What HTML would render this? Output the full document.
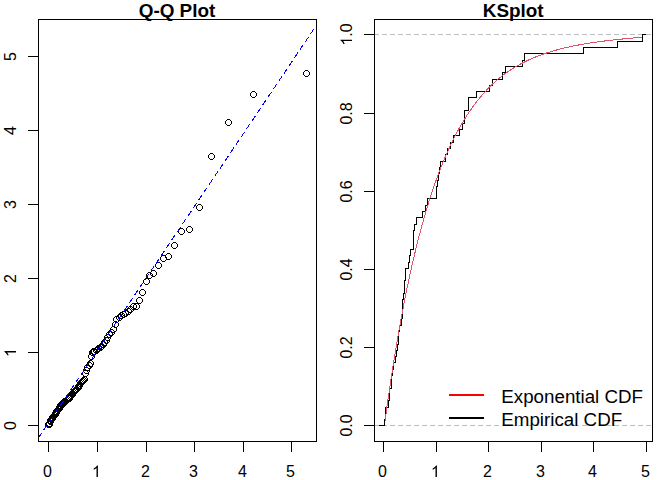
<!DOCTYPE html>
<html><head><meta charset="utf-8"><title>Q-Q Plot / KSplot</title>
<style>html,body{margin:0;padding:0;background:#fff;}svg{display:block;}</style>
</head><body>
<svg width="672" height="480" viewBox="0 0 672 480">
<rect width="672" height="480" fill="#fff"/>
<g shape-rendering="crispEdges" fill="none" stroke="#000" stroke-width="1">
<rect x="38.5" y="19.5" width="278" height="422"/>
<line x1="48.5" y1="441.5" x2="48.5" y2="451.5"/>
<line x1="28" y1="425.5" x2="38.5" y2="425.5"/>
<line x1="97.5" y1="441.5" x2="97.5" y2="451.5"/>
<line x1="28" y1="352.5" x2="38.5" y2="352.5"/>
<line x1="146.5" y1="441.5" x2="146.5" y2="451.5"/>
<line x1="28" y1="278.5" x2="38.5" y2="278.5"/>
<line x1="194.5" y1="441.5" x2="194.5" y2="451.5"/>
<line x1="28" y1="204.5" x2="38.5" y2="204.5"/>
<line x1="243.5" y1="441.5" x2="243.5" y2="451.5"/>
<line x1="28" y1="130.5" x2="38.5" y2="130.5"/>
<line x1="291.5" y1="441.5" x2="291.5" y2="451.5"/>
<line x1="28" y1="56.5" x2="38.5" y2="56.5"/>
</g>
<defs><path id="c" d="M2 0h3v1h-3zM1 1h1v1h-1zM5 1h1v1h-1zM0 2h1v3h-1zM6 2h1v3h-1zM1 5h1v1h-1zM5 5h1v1h-1zM2 6h3v1h-3z"/></defs>
<g shape-rendering="crispEdges" fill="#000">
<use href="#c" x="45" y="421"/>
<use href="#c" x="46" y="421"/>
<use href="#c" x="46" y="420"/>
<use href="#c" x="47" y="418"/>
<use href="#c" x="47" y="417"/>
<use href="#c" x="48" y="416"/>
<use href="#c" x="48" y="416"/>
<use href="#c" x="49" y="415"/>
<use href="#c" x="49" y="414"/>
<use href="#c" x="50" y="413"/>
<use href="#c" x="50" y="413"/>
<use href="#c" x="51" y="412"/>
<use href="#c" x="52" y="411"/>
<use href="#c" x="52" y="410"/>
<use href="#c" x="53" y="409"/>
<use href="#c" x="53" y="408"/>
<use href="#c" x="54" y="407"/>
<use href="#c" x="54" y="407"/>
<use href="#c" x="55" y="406"/>
<use href="#c" x="56" y="405"/>
<use href="#c" x="56" y="404"/>
<use href="#c" x="57" y="403"/>
<use href="#c" x="57" y="402"/>
<use href="#c" x="58" y="401"/>
<use href="#c" x="59" y="401"/>
<use href="#c" x="59" y="400"/>
<use href="#c" x="60" y="399"/>
<use href="#c" x="61" y="399"/>
<use href="#c" x="61" y="398"/>
<use href="#c" x="62" y="398"/>
<use href="#c" x="63" y="397"/>
<use href="#c" x="63" y="397"/>
<use href="#c" x="64" y="396"/>
<use href="#c" x="65" y="395"/>
<use href="#c" x="66" y="395"/>
<use href="#c" x="66" y="394"/>
<use href="#c" x="67" y="393"/>
<use href="#c" x="68" y="392"/>
<use href="#c" x="69" y="391"/>
<use href="#c" x="69" y="390"/>
<use href="#c" x="70" y="389"/>
<use href="#c" x="71" y="388"/>
<use href="#c" x="72" y="387"/>
<use href="#c" x="73" y="386"/>
<use href="#c" x="74" y="385"/>
<use href="#c" x="75" y="384"/>
<use href="#c" x="75" y="383"/>
<use href="#c" x="76" y="382"/>
<use href="#c" x="77" y="380"/>
<use href="#c" x="78" y="379"/>
<use href="#c" x="79" y="378"/>
<use href="#c" x="80" y="377"/>
<use href="#c" x="81" y="376"/>
<use href="#c" x="82" y="370"/>
<use href="#c" x="83" y="367"/>
<use href="#c" x="84" y="364"/>
<use href="#c" x="86" y="362"/>
<use href="#c" x="87" y="360"/>
<use href="#c" x="88" y="353"/>
<use href="#c" x="89" y="349"/>
<use href="#c" x="90" y="348"/>
<use href="#c" x="91" y="348"/>
<use href="#c" x="93" y="347"/>
<use href="#c" x="94" y="346"/>
<use href="#c" x="95" y="345"/>
<use href="#c" x="97" y="344"/>
<use href="#c" x="98" y="343"/>
<use href="#c" x="100" y="341"/>
<use href="#c" x="101" y="339"/>
<use href="#c" x="103" y="337"/>
<use href="#c" x="104" y="334"/>
<use href="#c" x="106" y="331"/>
<use href="#c" x="108" y="329"/>
<use href="#c" x="110" y="326"/>
<use href="#c" x="112" y="321"/>
<use href="#c" x="113" y="316"/>
<use href="#c" x="116" y="314"/>
<use href="#c" x="118" y="312"/>
<use href="#c" x="120" y="311"/>
<use href="#c" x="122" y="310"/>
<use href="#c" x="125" y="308"/>
<use href="#c" x="127" y="306"/>
<use href="#c" x="130" y="303"/>
<use href="#c" x="133" y="303"/>
<use href="#c" x="136" y="297"/>
<use href="#c" x="139" y="289"/>
<use href="#c" x="143" y="278"/>
<use href="#c" x="146" y="272"/>
<use href="#c" x="150" y="270"/>
<use href="#c" x="155" y="262"/>
<use href="#c" x="160" y="255"/>
<use href="#c" x="165" y="253"/>
<use href="#c" x="171" y="242"/>
<use href="#c" x="178" y="228"/>
<use href="#c" x="186" y="226"/>
<use href="#c" x="196" y="204"/>
<use href="#c" x="208" y="153"/>
<use href="#c" x="225" y="119"/>
<use href="#c" x="250" y="91"/>
<use href="#c" x="303" y="70"/>
</g>
<line x1="38.5" y1="437.8" x2="316" y2="25.9" stroke="#0000ff" stroke-width="1" stroke-dasharray="5.95 3.6" shape-rendering="crispEdges"/>
<g shape-rendering="crispEdges" fill="none" stroke="#000" stroke-width="1">
<rect x="374.5" y="19.5" width="278" height="422"/>
<line x1="383.5" y1="441.5" x2="383.5" y2="451.5"/>
<line x1="364" y1="425.5" x2="374.5" y2="425.5"/>
<line x1="436.5" y1="441.5" x2="436.5" y2="451.5"/>
<line x1="364" y1="347.5" x2="374.5" y2="347.5"/>
<line x1="488.5" y1="441.5" x2="488.5" y2="451.5"/>
<line x1="364" y1="269.5" x2="374.5" y2="269.5"/>
<line x1="541.5" y1="441.5" x2="541.5" y2="451.5"/>
<line x1="364" y1="191.5" x2="374.5" y2="191.5"/>
<line x1="593.5" y1="441.5" x2="593.5" y2="451.5"/>
<line x1="364" y1="113.5" x2="374.5" y2="113.5"/>
<line x1="646.5" y1="441.5" x2="646.5" y2="451.5"/>
<line x1="364" y1="34.5" x2="374.5" y2="34.5"/>
</g>
<line x1="375" y1="34.5" x2="652" y2="34.5" stroke="#bebebe" stroke-width="1" stroke-dasharray="5 3" stroke-dashoffset="1" shape-rendering="crispEdges"/>
<line x1="375" y1="425.5" x2="652" y2="425.5" stroke="#bebebe" stroke-width="1" stroke-dasharray="5 3" stroke-dashoffset="1" shape-rendering="crispEdges"/>
<path d="M379 425.5 H384.5 V419.5 H385.5 V413.5 H385.5 V407.5 H388.5 V400.5 H389.5 V394.5 H389.5 V388.5 H391.5 V381.5 H391.5 V375.5 H392.5 V369.5 H393.5 V362.5 H395.5 V356.5 H396.5 V350.5 H397.5 V344.5 H398.5 V337.5 H398.5 V331.5 H399.5 V325.5 H401.5 V318.5 H402.5 V312.5 H402.5 V306.5 H402.5 V299.5 H403.5 V293.5 H404.5 V287.5 H404.5 V280.5 H405.5 V274.5 H405.5 V268.5 H408.5 V262.5 H409.5 V255.5 H410.5 V249.5 H413.5 V243.5 H413.5 V236.5 H413.5 V230.5 H414.5 V224.5 H416.5 V217.5 H422.5 V211.5 H425.5 V205.5 H427.5 V198.5 H436.5 V192.5 H436.5 V186.5 H437.5 V180.5 H438.5 V173.5 H439.5 V167.5 H440.5 V161.5 H445.5 V154.5 H447.5 V148.5 H450.5 V142.5 H453.5 V135.5 H459.5 V129.5 H462.5 V123.5 H464.5 V116.5 H464.5 V110.5 H468.5 V104.5 H468.5 V97.5 H476.5 V91.5 H489.5 V85.5 H492.5 V79.5 H502.5 V72.5 H505.5 V66.5 H522.5 V60.5 H524.5 V53.5 H583.5 V47.5 H617.5 V41.5 H642.5 V34.5 H646" fill="none" stroke="#000" stroke-width="1" shape-rendering="crispEdges"/>
<polyline points="385.0,421.05 386.0,413.74 387.0,406.57 388.0,399.54 389.0,392.64 390.0,385.87 391.0,379.23 392.0,372.71 393.0,366.32 394.0,360.05 395.0,353.89 396.0,347.85 397.0,341.93 398.0,336.12 399.0,330.42 400.0,324.82 401.0,319.34 402.0,313.95 403.0,308.67 404.0,303.49 405.0,298.40 406.0,293.41 407.0,288.52 408.0,283.72 409.0,279.01 410.0,274.38 411.0,269.85 412.0,265.40 413.0,261.04 414.0,256.75 415.0,252.55 416.0,248.43 417.0,244.39 418.0,240.42 419.0,236.53 420.0,232.71 421.0,228.96 422.0,225.29 423.0,221.68 424.0,218.14 425.0,214.67 426.0,211.26 427.0,207.92 428.0,204.64 429.0,201.43 430.0,198.27 431.0,195.18 432.0,192.14 433.0,189.16 434.0,186.24 435.0,183.37 436.0,180.55 437.0,177.79 438.0,175.08 439.0,172.43 440.0,169.82 441.0,167.26 442.0,164.75 443.0,162.29 444.0,159.87 445.0,157.50 446.0,155.18 447.0,152.90 448.0,150.66 449.0,148.46 450.0,146.31 451.0,144.20 452.0,142.12 453.0,140.09 454.0,138.09 455.0,136.13 456.0,134.21 457.0,132.33 458.0,130.48 459.0,128.66 460.0,126.88 461.0,125.14 462.0,123.42 463.0,121.74 464.0,120.09 465.0,118.48 466.0,116.89 467.0,115.33 468.0,113.80 469.0,112.30 470.0,110.83 471.0,109.39 472.0,107.98 473.0,106.59 474.0,105.22 475.0,103.89 476.0,102.58 477.0,101.29 478.0,100.03 479.0,98.79 480.0,97.57 482.0,95.21 484.0,92.94 486.0,90.75 488.0,88.64 490.0,86.61 492.0,84.66 494.0,82.78 496.0,80.98 498.0,79.24 500.0,77.56 502.0,75.99 504.0,74.48 506.0,73.02 508.0,71.62 510.0,70.28 512.0,68.99 514.0,67.74 516.0,66.55 518.0,65.40 520.0,64.29 522.0,63.22 524.0,62.20 526.0,61.21 528.0,60.26 530.0,59.35 532.0,58.47 534.0,57.63 536.0,56.81 538.0,56.03 540.0,55.27 542.0,54.55 544.0,53.85 546.0,53.17 548.0,52.52 550.0,51.89 552.0,51.29 554.0,50.71 556.0,50.15 558.0,49.60 560.0,49.08 562.0,48.57 564.0,48.09 566.0,47.62 568.0,47.16 570.0,46.72 572.0,46.30 574.0,45.89 576.0,45.49 578.0,45.10 580.0,44.73 582.0,44.37 584.0,44.02 586.0,43.69 588.0,43.36 590.0,43.04 592.0,42.73 594.0,42.43 596.0,42.14 598.0,41.86 600.0,41.59 602.0,41.33 604.0,41.07 606.0,40.82 608.0,40.57 610.0,40.34 612.0,40.11 614.0,39.89 616.0,39.67 618.0,39.46 620.0,39.25 622.0,39.05 624.0,38.86 626.0,38.67 628.0,38.48 630.0,38.30 632.0,38.13 634.0,37.96 636.0,37.79 638.0,37.63 640.0,37.48 642.0,37.37" fill="none" stroke="#df536b" stroke-width="1" shape-rendering="crispEdges"/>
<g shape-rendering="crispEdges">
<rect x="449" y="394" width="35" height="2" fill="#ff0000"/>
<rect x="449" y="417" width="35" height="2" fill="#000"/>
</g>
<text x="501.3" y="403" font-family="Liberation Sans, sans-serif" font-size="18.75">Exponential CDF</text>
<text x="501.3" y="426" font-family="Liberation Sans, sans-serif" font-size="18.75">Empirical CDF</text>
<text x="177" y="17" text-anchor="middle" font-family="Liberation Sans, sans-serif" font-size="18.9" font-weight="bold">Q-Q Plot</text>
<text x="513.2" y="17" text-anchor="middle" font-family="Liberation Sans, sans-serif" font-size="18.9" font-weight="bold">KSplot</text>
<g transform="translate(47.4 477)">
<text x="-4.45" y="0" font-family="Liberation Sans, sans-serif" font-size="16">0</text>
</g>
<g transform="translate(16 425.5) rotate(-90)">
<text x="-4.45" y="0" font-family="Liberation Sans, sans-serif" font-size="16">0</text>
</g>
<g transform="translate(382.4 477)">
<text x="-4.45" y="0" font-family="Liberation Sans, sans-serif" font-size="16">0</text>
</g>
<g transform="translate(352 425.5) rotate(-90)">
<text x="-11.12" y="0" font-family="Liberation Sans, sans-serif" font-size="16">0.0</text>
</g>
<g transform="translate(96.4 477)">
<path transform="translate(-4.45 0) scale(0.0078125 -0.0078125)" d="M763 0H583V1147Q518 1085 412.5 1023T223 930V1104Q374 1175 487 1276T647 1472H763Z"/>
</g>
<g transform="translate(16 352.5) rotate(-90)">
<path transform="translate(-4.45 0) scale(0.0078125 -0.0078125)" d="M763 0H583V1147Q518 1085 412.5 1023T223 930V1104Q374 1175 487 1276T647 1472H763Z"/>
</g>
<g transform="translate(435.4 477)">
<path transform="translate(-4.45 0) scale(0.0078125 -0.0078125)" d="M763 0H583V1147Q518 1085 412.5 1023T223 930V1104Q374 1175 487 1276T647 1472H763Z"/>
</g>
<g transform="translate(352 347.5) rotate(-90)">
<text x="-11.12" y="0" font-family="Liberation Sans, sans-serif" font-size="16">0.2</text>
</g>
<g transform="translate(145.4 477)">
<text x="-4.45" y="0" font-family="Liberation Sans, sans-serif" font-size="16">2</text>
</g>
<g transform="translate(16 278.5) rotate(-90)">
<text x="-4.45" y="0" font-family="Liberation Sans, sans-serif" font-size="16">2</text>
</g>
<g transform="translate(487.4 477)">
<text x="-4.45" y="0" font-family="Liberation Sans, sans-serif" font-size="16">2</text>
</g>
<g transform="translate(352 269.5) rotate(-90)">
<text x="-11.12" y="0" font-family="Liberation Sans, sans-serif" font-size="16">0.4</text>
</g>
<g transform="translate(193.4 477)">
<text x="-4.45" y="0" font-family="Liberation Sans, sans-serif" font-size="16">3</text>
</g>
<g transform="translate(16 204.5) rotate(-90)">
<text x="-4.45" y="0" font-family="Liberation Sans, sans-serif" font-size="16">3</text>
</g>
<g transform="translate(540.4 477)">
<text x="-4.45" y="0" font-family="Liberation Sans, sans-serif" font-size="16">3</text>
</g>
<g transform="translate(352 191.5) rotate(-90)">
<text x="-11.12" y="0" font-family="Liberation Sans, sans-serif" font-size="16">0.6</text>
</g>
<g transform="translate(242.4 477)">
<text x="-4.45" y="0" font-family="Liberation Sans, sans-serif" font-size="16">4</text>
</g>
<g transform="translate(16 130.5) rotate(-90)">
<text x="-4.45" y="0" font-family="Liberation Sans, sans-serif" font-size="16">4</text>
</g>
<g transform="translate(592.4 477)">
<text x="-4.45" y="0" font-family="Liberation Sans, sans-serif" font-size="16">4</text>
</g>
<g transform="translate(352 113.5) rotate(-90)">
<text x="-11.12" y="0" font-family="Liberation Sans, sans-serif" font-size="16">0.8</text>
</g>
<g transform="translate(290.4 477)">
<text x="-4.45" y="0" font-family="Liberation Sans, sans-serif" font-size="16">5</text>
</g>
<g transform="translate(16 56.5) rotate(-90)">
<text x="-4.45" y="0" font-family="Liberation Sans, sans-serif" font-size="16">5</text>
</g>
<g transform="translate(645.4 477)">
<text x="-4.45" y="0" font-family="Liberation Sans, sans-serif" font-size="16">5</text>
</g>
<g transform="translate(352 34.5) rotate(-90)">
<path transform="translate(-11.12 0) scale(0.0078125 -0.0078125)" d="M763 0H583V1147Q518 1085 412.5 1023T223 930V1104Q374 1175 487 1276T647 1472H763Z"/>
<text x="-2.22" y="0" font-family="Liberation Sans, sans-serif" font-size="16">.0</text>
</g>
</svg>
</body></html>
